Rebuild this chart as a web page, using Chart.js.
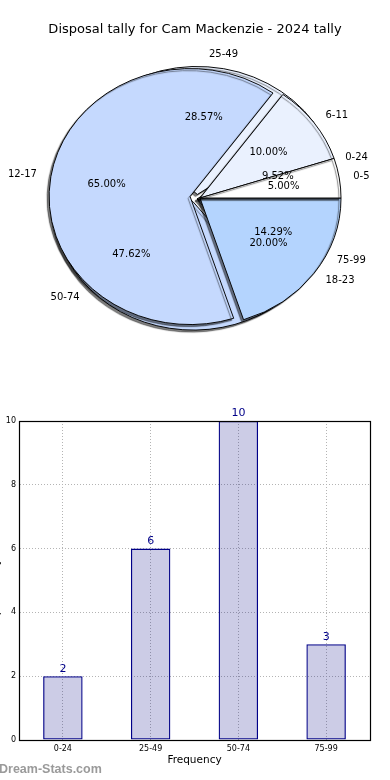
<!DOCTYPE html>
<html>
<head>
<meta charset="utf-8">
<script src="https://cdn.jsdelivr.net/npm/chart.js@4.4.0/dist/chart.umd.min.js"></script>
<style>
  body { margin: 0; background: #fff; }
  #wrap { position: relative; width: 390px; height: 780px; overflow: hidden; }
  canvas { position: absolute; left: 0; }
</style>
</head>
<body>
<div id="wrap">
  <canvas id="pieUnder" width="390" height="390" style="top:0"></canvas>
  <canvas id="pieTop" width="390" height="390" style="top:0"></canvas>
  <canvas id="bars" width="390" height="390" style="top:390px"></canvas>
</div>
<script>
// Chart data
const chartTitle = 'Disposal tally for Cam Mackenzie - 2024 tally';
const tallyRanges = ['0-24', '25-49', '50-74', '75-99'];
const tallyCounts = [2, 6, 10, 3];
const ageGroups = ['0-5', '6-11', '12-17', '18-23'];
const agePercents = [5, 10, 65, 20];
const yTicks = [0, 2, 4, 6, 8, 10];

// Styling
const pieColors = ['#ffffff', '#eaf1fe', '#c5d9fe', '#b4d4fe'];
const underExplode = [0, 5, 5, 0];
const topExplode = [0, 0, 10, 0];
const pieRadius = 141;
const yScale = 128 / 141; // the pie is drawn as an ellipse
const font = '"DejaVu Sans", sans-serif';

// squash the pie into an ellipse, pull out exploded wedges, add a shadow
const squash = {
    id: 'squash',
    beforeDatasetsDraw(chart) {
        const arc = chart.getDatasetMeta(0).data[0];
        const ctx = chart.ctx;
        ctx.save();
        ctx.translate(arc.x, arc.y);
        ctx.scale(1, yScale);
        ctx.translate(-arc.x, -arc.y);
        ctx.shadowColor = 'rgba(0,0,0,0.5)';
        ctx.shadowOffsetX = -2;
        ctx.shadowOffsetY = 2;
        ctx.shadowBlur = 1;
    },
    beforeDatasetDraw(chart, args) {
        const ctx = chart.ctx;
        const explode = chart.data.datasets[args.index].explode || [];
        args.meta.data.forEach((arc, i) => {
            const mid = (arc.startAngle + arc.endAngle) / 2;
            const d = explode[i] || 0;
            ctx.save();
            ctx.translate(Math.cos(mid) * d, Math.sin(mid) * d);
            arc.draw(ctx);
            ctx.restore();
        });
        return false;
    },
    afterDatasetsDraw(chart) {
        chart.ctx.restore();
    }
};

function pieConfig(labels, values, explode, padLeft, padTop, extra) {
    return {
        type: 'pie',
        data: {
            // Chart.js goes clockwise, the original goes counter-clockwise
            labels: labels.slice().reverse(),
            datasets: [{
                data: values.slice().reverse(),
                explode: explode.slice().reverse(),
                backgroundColor: pieColors.slice().reverse(),
                borderColor: '#000',
                borderWidth: 1,
                borderJoinStyle: 'miter'
            }]
        },
        options: {
            responsive: false,
            animation: false,
            events: [],
            rotation: 90,
            radius: pieRadius,
            layout: { padding: { left: padLeft, top: padTop } },
            plugins: { legend: { display: false }, tooltip: { enabled: false } }
        },
        plugins: [squash].concat(extra)
    };
}

const underChart = new Chart(document.getElementById('pieUnder'),
    pieConfig(tallyRanges, tallyCounts, underExplode, 4, 8, []));

const tallyTotal = tallyCounts.reduce((a, b) => a + b, 0);
const tallyPct = tallyCounts.map(v => (v / tallyTotal * 100).toFixed(2) + '%');
const agePct = agePercents.map(v => v.toFixed(2) + '%');

function drawPieLabels(ctx, chart, labels, pcts) {
    const arcs = chart.getDatasetMeta(0).data;
    const explode = chart.data.datasets[0].explode;
    arcs.forEach((arc, i) => {
        const k = labels.length - 1 - i;
        const p = arc.getProps(['x', 'y', 'startAngle', 'endAngle', 'outerRadius']);
        const mid = (p.startAngle + p.endAngle) / 2;
        const cos = Math.cos(mid), sin = Math.sin(mid);
        const s = explode[i] || 0;
        const at = f => [p.x + (s + f * p.outerRadius) * cos,
                         p.y + (s + f * p.outerRadius) * sin * yScale];
        const l = at(1.1);
        ctx.textAlign = cos > 0 ? 'left' : 'right';
        ctx.fillText(labels[k], l[0], l[1]);
        const q = at(0.6);
        ctx.textAlign = 'center';
        ctx.fillText(pcts[k], q[0], q[1]);
    });
}

const pieText = {
    id: 'pieText',
    afterDraw(chart) {
        const ctx = chart.ctx;
        ctx.save();
        ctx.fillStyle = '#000';
        ctx.textBaseline = 'middle';
        ctx.font = '13px ' + font;
        ctx.textAlign = 'center';
        ctx.fillText(chartTitle, 195, 30);
        ctx.font = '10px ' + font;
        drawPieLabels(ctx, underChart, tallyRanges, tallyPct);
        drawPieLabels(ctx, chart, ageGroups, agePct);
        ctx.restore();
    }
};

new Chart(document.getElementById('pieTop'),
    pieConfig(ageGroups, agePercents, topExplode, 10, 6, [pieText]));

// bar chart
const barExtras = {
    id: 'barExtras',
    afterDatasetsDraw(chart) {
        const ctx = chart.ctx;
        ctx.save();
        ctx.fillStyle = '#000088';
        ctx.font = '11px ' + font;
        ctx.textAlign = 'center';
        ctx.textBaseline = 'bottom';
        chart.getDatasetMeta(0).data.forEach((bar, i) => {
            ctx.fillText(String(tallyCounts[i]), bar.x, bar.y - 2);
        });
        ctx.restore();
    },
    afterDraw(chart) {
        const ctx = chart.ctx;
        const a = chart.chartArea;
        ctx.save();
        ctx.strokeStyle = '#000';
        ctx.lineWidth = 1.2;
        ctx.strokeRect(Math.round(a.left) + 0.5, Math.round(a.top) + 0.5,
            Math.round(a.right - a.left), Math.round(a.bottom - a.top));
        // y axis title, mostly cut off at the left edge
        ctx.fillStyle = '#000';
        ctx.font = '11px ' + font;
        ctx.translate(-4, (a.top + a.bottom) / 2 + 15);
        ctx.rotate(-Math.PI / 2);
        ctx.textAlign = 'center';
        ctx.textBaseline = 'middle';
        ctx.fillText('Disposal Tally', 0, 0);
        ctx.restore();
        ctx.save();
        ctx.fillStyle = '#9a9a9a';
        ctx.font = 'bold 12.5px "Liberation Sans", sans-serif';
        ctx.textBaseline = 'middle';
        ctx.fillText('Dream-Stats.com', -1, 380);
        ctx.restore();
    }
};

new Chart(document.getElementById('bars'), {
    type: 'bar',
    data: {
        labels: tallyRanges,
        datasets: [{
            data: tallyCounts,
            backgroundColor: 'rgba(0,0,128,0.2)',
            borderColor: '#000088',
            borderWidth: 1.3,
            borderSkipped: false,
            barPercentage: 0.45,
            categoryPercentage: 1
        }]
    },
    options: {
        responsive: false,
        animation: false,
        events: [],
        layout: { padding: { top: 31, right: 20 } },
        plugins: { legend: { display: false }, tooltip: { enabled: false } },
        scales: {
            x: {
                afterFit(scale) { scale.height = 40; },
                grid: { offset: false, color: '#b4b4b4', drawTicks: false },
                border: { color: '#000', dash: [1, 2] },
                ticks: { color: '#000', padding: 4, font: { family: font, size: 8 } },
                title: {
                    display: true, text: 'Frequency', color: '#000',
                    font: { family: font, size: 10.5 },
                    padding: { top: 4, bottom: 13 }
                }
            },
            y: {
                min: yTicks[0],
                max: yTicks[yTicks.length - 1],
                afterFit(scale) { scale.width = 19; },
                afterBuildTicks(scale) { scale.ticks = yTicks.map(v => ({ value: v })); },
                grid: { color: '#b4b4b4', drawTicks: false },
                border: { color: '#000', dash: [1, 2] },
                ticks: { color: '#000', padding: 3, font: { family: font, size: 8 } }
            }
        }
    },
    plugins: [barExtras]
});
</script>
</body>
</html>
